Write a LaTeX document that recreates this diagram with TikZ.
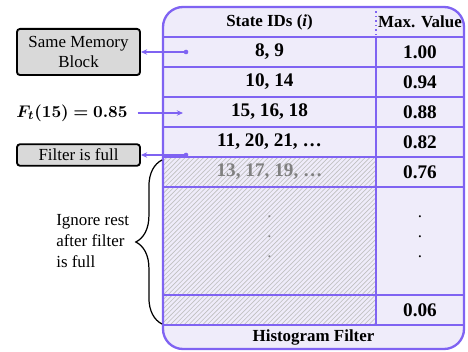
\documentclass[tikz,border=0pt]{standalone}
\usepackage{amsmath,bm}
\usepackage{fontspec}
\setmainfont{Liberation Serif}
\usetikzlibrary{patterns,decorations.pathreplacing,arrows.meta}
\definecolor{filterline}{HTML}{7F63F2}
\definecolor{filterfill}{HTML}{EFECFA}
\definecolor{boxfill}{HTML}{D9D9D9}
\begin{document}
\begin{tikzpicture}[x=0.65pt,y=-0.65pt,font=\fontsize{11}{13.5}\selectfont,
    rowline/.style={filterline,line width=0.9pt},
    link/.style={filterline,line width=0.8pt,-{Stealth[length=4pt,width=3.5pt]}},
    membox/.style={draw,line width=1.2pt,fill=boxfill,rounded corners=2pt,
      minimum width=80pt,align=center,inner sep=1pt}]

        \useasboundingbox (0,0) rectangle (468,352);

        % filter table
        \fill[filterfill,rounded corners=13pt] (163,7) rectangle (464,349);
        \fill[pattern=north east lines,pattern color=gray!50] (163,157) rectangle (376,325);
        \foreach \y in {37,67,97,127,157,187,295,325}
          \draw[rowline] (163,\y) -- (464,\y);
        \draw[rowline] (376,37) -- (376,325);
        \draw[rowline,dotted] (376,7) -- (376,37);
        \draw[filterline,line width=1.5pt,rounded corners=13pt] (163,7) rectangle (464,349);

        \begin{scope}[every node/.style={font=\fontsize{12.5}{14}\selectfont\bfseries}]
          \node[font=\fontsize{11}{13.5}\selectfont\bfseries] (ids)  at (269.5,22) {State IDs (\textit{i})};
          \node[font=\fontsize{11}{13.5}\selectfont\bfseries] (maxv) at (420,22)   {Max. Value};
          \node (ids1)  at (269.5,52)  {8, 9};
          \node (val1)  at (420,52)    {1.00};
          \node (ids2)  at (269.5,82)  {10, 14};
          \node (val2)  at (420,82)    {0.94};
          \node (ids3)  at (269.5,112) {15, 16, 18};
          \node (val3)  at (420,112)   {0.88};
          \node (ids4)  at (269.5,142) {11, 20, 21, …};
          \node (val4)  at (420,142)   {0.82};
          \node[text=gray] (ids5) at (269.5,172) {13, 17, 19, …};
          \node (val5)  at (420,172)   {0.76};
          \node (vallast) at (420,310) {0.06};
          \node[font=\fontsize{11}{13.5}\selectfont\bfseries] (foot) at (313.5,337) {Histogram Filter};
        \end{scope}

        \foreach \y in {217,237,257} {
          \node[text=gray,inner sep=0pt] at (269.5,\y) {.};
          \node[inner sep=0pt] at (420,\y) {.};
        }

        % left side
        \node[membox,minimum height=30pt] (same) at (78.5,52)  {Same Memory\\Block};
        \node[membox,minimum height=14pt] (full) at (78.5,155) {Filter is full};
        \node (ft) at (72,113) {$\bm{F_t(15)=0.85}$};

        \coordinate (blk)  at (186,52);
        \coordinate (row3) at (183,113);
        \coordinate (last) at (186,155);

        \fill[filterline] (blk) circle (1.5pt);
        \fill[filterline] (last) circle (1.5pt);
        \draw[link] (blk) -- (same);
        \draw[link] (last) -- (full);
        \draw[link,shorten <=3pt] (ft) -- (row3);

        \draw[line width=0.8pt,decorate,decoration={brace,amplitude=17pt}]
          (162,324) -- (162,160);
        \node[align=left,anchor=east,inner sep=1pt] (ignore) at (131,241)
          {Ignore rest\\after filter\\is full};

\end{tikzpicture}
\end{document}
